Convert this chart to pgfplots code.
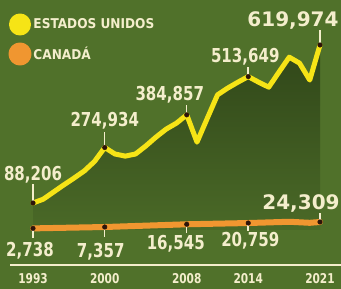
\documentclass[border=0pt]{standalone}
\usepackage{pgfplots}
\pgfplotsset{compat=1.18}
\usepackage{pgfplotstable}
\usepackage{fontspec}
\newfontfamily\numfont[FakeStretch=0.87]{DejaVu Sans Condensed Bold}
\newfontfamily\legfont{DejaVu Sans Condensed Bold}
\newfontfamily\bigfont{DejaVu Sans Bold}
\definecolor{bg}{RGB}{80,113,42}
\definecolor{areatop}{RGB}{48,70,25}
\definecolor{areabot}{RGB}{74,105,39}
\definecolor{usy}{RGB}{246,228,22}
\definecolor{cao}{RGB}{240,150,48}
\definecolor{cream}{RGB}{244,238,204}
\definecolor{dotc}{RGB}{45,20,10}

\pgfplotstableread{
year value
1993 88206
1994 101000
1995 125000
1996 149000
1997 172000
1998 196000
1999 228000
2000 274934
2001 253000
2002 246000
2003 253000
2004 280000
2005 310000
2006 337000
2007 357000
2008 384857
2009 293000
2010 373000
2011 452000
2012 475000
2013 495000
2014 513649
2015 495000
2016 478000
2017 529000
2018 579000
2019 559000
2020 502000
2021 619974
}\usdata

\pgfplotstableread{
year value
1993 88206
2000 274934
2008 384857
2014 513649
2021 619974
}\uskey

\pgfplotstableread{
year value
1993 2738
2000 7357
2008 16545
2014 20759
2018 25000
2020 21500
2021 24309
}\cadata

\pgfplotstableread{
year value
1993 2738
2000 7357
2008 16545
2014 20759
2021 24309
}\cakey

\begin{document}
\begin{tikzpicture}[
  lab/.style={text=cream, font=\numfont\fontsize{19.2bp}{20bp}\selectfont, inner sep=0pt, anchor=base},
  big/.style={text=cream, font=\bigfont\fontsize{20bp}{21bp}\selectfont, inner sep=0pt, anchor=base},
  lead/.style={cream, line width=1.5bp},
]
\fill[bg] (0,0) rectangle (341bp,289bp);
% background shading of the area under the US line (masked above the line below)
\shade[top color=areatop, bottom color=areabot] (33bp,59.8bp) rectangle (320bp,244bp);
\begin{axis}[
  at={(10bp,24bp)}, anchor=south west,
  scale only axis, width=331bp, height=265bp,
  xmin=1990.756, xmax=2023.05, ymin=-120500, ymax=771450,
  clip=false,
  axis y line=none, axis x line*=bottom,
  x axis line style={draw=cream, line width=2.5bp, -},
  xtick={1993,2000,2008,2014,2021},
  xticklabels={1993,2000,2008,2014,2021},
  major tick length=0pt,
  xticklabel style={font=\numfont\fontsize{13.5bp}{14bp}\selectfont, text=cream, anchor=base, yshift=-18bp, inner sep=0pt},
  legend style={at={(axis description cs:0,1)}, anchor=north west, xshift=-1.5bp, yshift=-13.5bp,
    draw=none, fill=none, text=cream, font=\legfont\fontsize{13.5bp}{14bp}\selectfont,
    row sep=7bp, inner sep=0pt, outer sep=0pt, legend cell align=left},
]
% mask: background colour above the US line
\addplot[fill=bg, draw=none, forget plot] table[x=year,y=value]{\usdata}
  -- (axis cs:2021,720000) -- (axis cs:1993,720000) -- cycle;

\addplot[usy, line width=5bp, line join=round, line cap=round, mark=none,
  legend image code/.code={\fill[usy] (0bp,0bp) circle (8.5bp);}] table[x=year,y=value]{\usdata};
\addlegendentry{ESTADOS UNIDOS}
\addplot[cao, line width=6bp, line join=round, line cap=round, mark=none,
  legend image code/.code={\fill[cao] (0bp,0bp) circle (8.5bp);}] table[x=year,y=value]{\cadata};
\addlegendentry{CANADÁ}

% leader lines
\draw[lead] (axis cs:1993,88206) -- ([yshift=19bp]axis cs:1993,88206);
\draw[lead] (axis cs:2000,274934) -- ([yshift=16bp]axis cs:2000,274934);
\draw[lead] (axis cs:2008,384857) -- ([yshift=10bp]axis cs:2008,384857);
\draw[lead] (axis cs:2014,513649) -- ([yshift=10bp]axis cs:2014,513649);
\draw[lead] (axis cs:2021,619974) -- ([yshift=15bp]axis cs:2021,619974);
\draw[lead] (axis cs:1993,2738) -- ([yshift=-10bp]axis cs:1993,2738);
\draw[lead] (axis cs:2000,7357) -- ([yshift=-10bp]axis cs:2000,7357);
\draw[lead] (axis cs:2008,16545) -- ([yshift=-9bp]axis cs:2008,16545);
\draw[lead] (axis cs:2014,20759) -- ([yshift=-8bp]axis cs:2014,20759);
\draw[lead] (axis cs:2021,24309) -- ([yshift=9bp]axis cs:2021,24309);

\addplot[only marks, mark=*, mark size=2.3bp, mark options={fill=dotc, draw=dotc}, forget plot] table[x=year,y=value]{\uskey};
\addplot[only marks, mark=*, mark size=2.3bp, mark options={fill=dotc, draw=dotc}, forget plot] table[x=year,y=value]{\cakey};

% value labels
\node[lab, yshift=22bp] at (axis cs:1993,88206) {88,206};
\node[lab, yshift=21bp] at (axis cs:2000,274934) {274,934};
\node[lab, xshift=-17bp, yshift=14bp] at (axis cs:2008,384857) {384,857};
\node[lab, xshift=-3bp, yshift=14bp] at (axis cs:2014,513649) {513,649};
\node[big, xshift=-27bp, yshift=18bp] at (axis cs:2021,619974) {619,974};
\node[lab, xshift=-3bp, yshift=-28bp] at (axis cs:1993,2738) {2,738};
\node[lab, xshift=-4bp, yshift=-30bp] at (axis cs:2000,7357) {7,357};
\node[lab, xshift=-11bp, yshift=-25bp] at (axis cs:2008,16545) {16,545};
\node[lab, xshift=2bp, yshift=-23bp] at (axis cs:2014,20759) {20,759};
\node[big, xshift=-19bp, yshift=12bp] at (axis cs:2021,24309) {24,309};
\end{axis}
\pgfresetboundingbox
\useasboundingbox (0,0) rectangle (341bp,289bp);
\end{tikzpicture}
\end{document}
